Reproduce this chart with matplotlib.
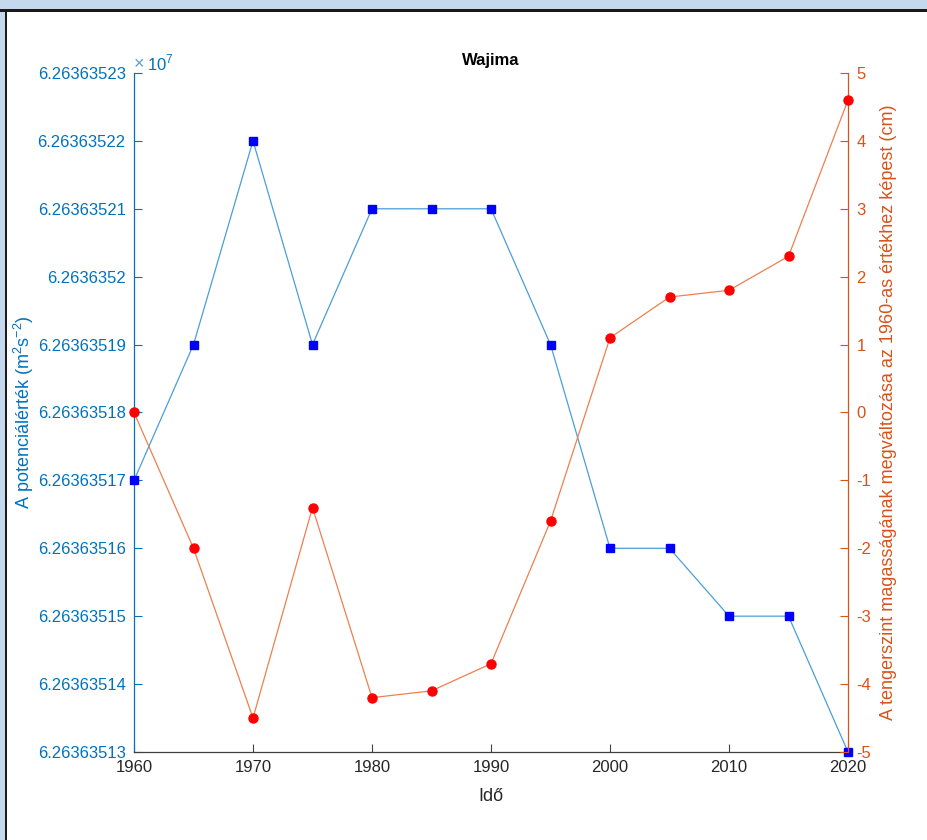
"""Wajima: potential value vs. sea level change, dual y axis."""

import matplotlib

matplotlib.use("Agg")
import matplotlib.pyplot as plt
from matplotlib.patches import Rectangle
from matplotlib.ticker import FuncFormatter

plt.rcParams["font.family"] = ["Liberation Sans", "DejaVu Sans"]
plt.rcParams["axes.unicode_minus"] = False
plt.rcParams["mathtext.fontset"] = "custom"
plt.rcParams["mathtext.rm"] = "Liberation Sans"

years = [1960, 1965, 1970, 1975, 1980, 1985, 1990, 1995, 2000, 2005, 2010, 2015, 2020]
potential = [62636351.7, 62636351.9, 62636352.2, 62636351.9, 62636352.1, 62636352.1,
             62636352.1, 62636351.9, 62636351.6, 62636351.6, 62636351.5, 62636351.5,
             62636351.3]
sea_level = [0.0, -2.0, -4.5, -1.4, -4.2, -4.1, -3.7, -1.6, 1.1, 1.7, 1.8, 2.3, 4.6]

x_ticks = [1960, 1970, 1980, 1990, 2000, 2010, 2020]
left_ticks = [62636351.3 + 0.1 * i for i in range(11)]
right_ticks = list(range(-5, 6))

LEFT_COLOR = "#0072BD"
RIGHT_COLOR = "#D95319"
AXIS_GRAY = "#404040"
FS = 12

fig = plt.figure(figsize=(9.28, 8.4), dpi=100)

# window frame at top and left
fig.patches.append(Rectangle((0, 0.989), 1, 0.011, transform=fig.transFigure,
                             facecolor="#c4d8ee", edgecolor="none"))
fig.patches.append(Rectangle((0, 0), 0.005, 0.99, transform=fig.transFigure,
                             facecolor="#c4d8ee", edgecolor="none"))
fig.patches.append(Rectangle((0, 0.986), 1, 0.003, transform=fig.transFigure,
                             facecolor="#1a1a1a", edgecolor="none"))
fig.patches.append(Rectangle((0.005, 0), 0.0022, 0.989, transform=fig.transFigure,
                             facecolor="#1a1a1a", edgecolor="none"))

ax = fig.add_axes([0.1444, 0.1048, 0.7694, 0.8083])
ax2 = ax.twinx()

ax.plot(years, potential, color="#4a9fd8", linewidth=0.9, marker="s", markersize=5.5,
        markerfacecolor="#0000ff", markeredgecolor="#0000ff", clip_on=False, zorder=3)
ax2.plot(years, sea_level, color="#ef7f4f", linewidth=0.9, marker="o", markersize=6.5,
         markerfacecolor="#ff0000", markeredgecolor="#ff0000", clip_on=False, zorder=3)

ax.set_xlim(1960, 2020)
ax.set_xticks(x_ticks)
ax.set_ylim(62636351.3, 62636352.3)
ax.set_yticks(left_ticks)
ax.yaxis.set_major_formatter(
    FuncFormatter(lambda v, _: f"{v / 1e7:.8f}".rstrip("0").rstrip("."))
)
ax2.set_ylim(-5, 5)
ax2.set_yticks(right_ticks)

for a in (ax, ax2):
    for s in ("top", "left", "right", "bottom"):
        a.spines[s].set_visible(False)

ax.spines["left"].set_visible(True)
ax.spines["left"].set_color(LEFT_COLOR)
ax.spines["bottom"].set_visible(True)
ax.spines["bottom"].set_color(AXIS_GRAY)
ax2.spines["right"].set_visible(True)
ax2.spines["right"].set_color(RIGHT_COLOR)
for s in ("left", "bottom"):
    ax.spines[s].set_linewidth(0.9)
ax2.spines["right"].set_linewidth(0.9)

ax.tick_params(axis="y", direction="in", colors=LEFT_COLOR, labelsize=FS, length=6, width=0.8, pad=6)
ax.tick_params(axis="x", direction="in", colors=AXIS_GRAY, labelcolor="#262626",
               labelsize=FS, length=6, width=0.8, pad=6)
ax2.tick_params(axis="y", direction="in", colors=RIGHT_COLOR, labelsize=FS, length=6, width=0.8, pad=6)

ax.text(0.0, 1.0, "\u00d7", transform=ax.transAxes, ha="left", va="bottom",
        fontsize=FS + 1, color="#5aa0d6")
ax.text(0.018, 1.0, r"10$^{7}$", transform=ax.transAxes, ha="left", va="bottom",
        fontsize=FS, color=LEFT_COLOR)

ax.set_title("Wajima", fontsize=FS, fontweight="bold", color="black", pad=6)
ax.set_xlabel("Idő", fontsize=13, color="#262626", labelpad=9)
ax.set_ylabel(r"A potenciálérték (m$^{\mathrm{2}}$s$^{\mathrm{-2}}$)", fontsize=13,
              color=LEFT_COLOR, labelpad=1)
ax2.set_ylabel("A tengerszint magasságának megváltozása az 1960-as értékhez képest (cm)",
               fontsize=13, color=RIGHT_COLOR, labelpad=6)

fig.savefig("out.png", dpi=100)
